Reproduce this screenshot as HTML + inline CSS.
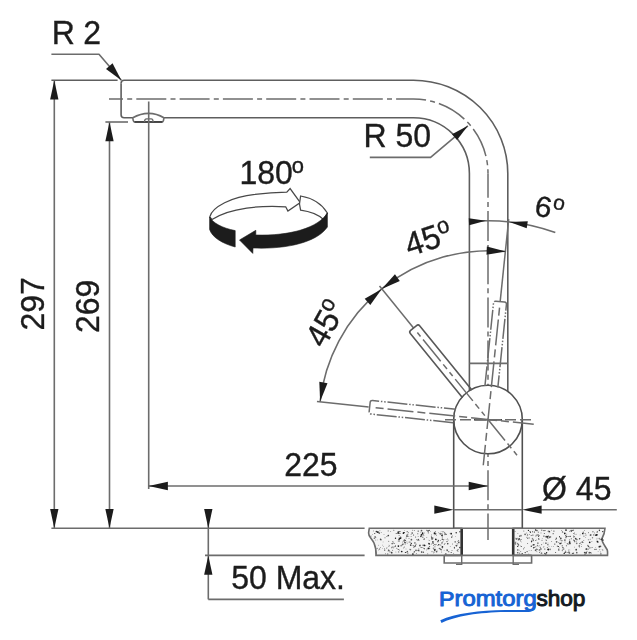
<!DOCTYPE html>
<html><head><meta charset="utf-8"><title>Dimension drawing</title>
<style>
html,body{margin:0;padding:0;background:#fff;}
body{width:637px;height:640px;overflow:hidden;font-family:"Liberation Sans",sans-serif;}
svg{display:block;}
</style></head><body>
<svg width="637" height="640" viewBox="0 0 637 640">
<rect width="637" height="640" fill="#fff"/>
<g>
<path d="M369.3,528.3 H461.7 V555.4 H376 C376.5,551 376,548 374,543 C372,538.5 368.3,536.5 368.6,533 C368.8,531 369,530 369.3,528.3 Z" fill="#f3f3f3" stroke="#6c6c6c" stroke-width="1.6"/>
<path d="M513.2,528.3 H605 C604.8,532 604,535 602,538.5 C601,541 605,546 607.3,550 C607.8,552 607.6,553.5 607.5,555.4 H513.2 Z" fill="#f3f3f3" stroke="#6c6c6c" stroke-width="1.6"/>
<g fill="#1c1c1c" stroke="none"><circle cx="411.3" cy="543.4" r="0.6" opacity="1"/><circle cx="416.2" cy="544.1" r="0.45" opacity="1"/><circle cx="427.1" cy="549.0" r="0.4" opacity="1"/><circle cx="398.0" cy="532.2" r="0.85" opacity="0.55"/><circle cx="424.0" cy="539.5" r="0.6" opacity="0.7"/><circle cx="426.5" cy="550.0" r="0.4" opacity="0.55"/><circle cx="424.4" cy="548.7" r="0.5" opacity="1"/><circle cx="423.6" cy="534.7" r="0.45" opacity="0.85"/><circle cx="415.5" cy="545.9" r="0.6" opacity="0.85"/><circle cx="407.2" cy="543.2" r="0.4" opacity="0.85"/><circle cx="399.1" cy="535.5" r="0.5" opacity="0.55"/><circle cx="377.2" cy="548.4" r="0.6" opacity="0.55"/><circle cx="446.3" cy="539.3" r="0.4" opacity="0.55"/><circle cx="390.0" cy="552.2" r="0.4" opacity="1"/><circle cx="404.4" cy="547.0" r="0.6" opacity="0.55"/><circle cx="421.4" cy="534.8" r="0.85" opacity="0.85"/><circle cx="401.0" cy="537.5" r="0.4" opacity="1"/><circle cx="438.5" cy="532.8" r="0.45" opacity="0.55"/><circle cx="414.3" cy="546.4" r="0.45" opacity="1"/><circle cx="416.3" cy="553.6" r="0.45" opacity="1"/><circle cx="428.3" cy="532.8" r="0.6" opacity="0.7"/><circle cx="457.8" cy="544.2" r="0.4" opacity="0.7"/><circle cx="387.7" cy="553.9" r="0.7" opacity="0.55"/><circle cx="374.7" cy="533.5" r="0.6" opacity="0.85"/><circle cx="444.9" cy="539.3" r="0.4" opacity="0.55"/><circle cx="389.6" cy="545.3" r="0.4" opacity="0.85"/><circle cx="404.1" cy="540.9" r="0.7" opacity="1"/><circle cx="445.1" cy="533.3" r="0.6" opacity="0.7"/><circle cx="426.8" cy="537.5" r="0.45" opacity="0.7"/><circle cx="435.6" cy="533.8" r="0.85" opacity="0.7"/><circle cx="432.1" cy="539.3" r="0.6" opacity="0.55"/><circle cx="408.5" cy="532.5" r="0.4" opacity="0.85"/><circle cx="392.2" cy="546.9" r="0.5" opacity="1"/><circle cx="444.3" cy="544.3" r="0.5" opacity="0.7"/><circle cx="453.7" cy="553.5" r="0.45" opacity="0.7"/><circle cx="413.7" cy="545.7" r="0.7" opacity="0.55"/><circle cx="395.9" cy="552.0" r="0.45" opacity="0.55"/><circle cx="377.2" cy="539.9" r="0.45" opacity="0.55"/><circle cx="375.1" cy="536.8" r="0.7" opacity="0.7"/><circle cx="379.2" cy="533.3" r="0.6" opacity="0.85"/><circle cx="429.5" cy="546.6" r="0.7" opacity="0.7"/><circle cx="423.5" cy="552.2" r="0.6" opacity="0.85"/><circle cx="433.4" cy="553.1" r="0.4" opacity="0.55"/><circle cx="413.9" cy="547.5" r="0.5" opacity="0.7"/><circle cx="459.9" cy="531.8" r="0.7" opacity="0.85"/><circle cx="436.6" cy="551.6" r="0.85" opacity="0.7"/><circle cx="441.6" cy="552.0" r="0.5" opacity="0.55"/><circle cx="432.0" cy="551.6" r="0.6" opacity="0.55"/><circle cx="447.8" cy="543.7" r="0.7" opacity="1"/><circle cx="404.7" cy="530.3" r="0.4" opacity="0.55"/><circle cx="379.1" cy="532.8" r="0.5" opacity="1"/><circle cx="435.8" cy="539.3" r="0.85" opacity="1"/><circle cx="410.2" cy="550.1" r="0.4" opacity="0.55"/><circle cx="398.6" cy="532.1" r="0.4" opacity="0.7"/><circle cx="456.2" cy="532.7" r="0.7" opacity="1"/><circle cx="393.8" cy="530.3" r="0.5" opacity="0.7"/><circle cx="431.4" cy="534.9" r="0.45" opacity="0.85"/><circle cx="429.7" cy="540.6" r="0.45" opacity="0.85"/><circle cx="407.0" cy="536.0" r="0.85" opacity="1"/><circle cx="442.5" cy="548.1" r="0.45" opacity="0.7"/><circle cx="405.2" cy="544.0" r="0.5" opacity="0.7"/><circle cx="383.1" cy="541.9" r="0.4" opacity="0.55"/><circle cx="455.6" cy="536.6" r="0.45" opacity="0.55"/><circle cx="411.1" cy="536.6" r="0.45" opacity="1"/><circle cx="405.0" cy="542.5" r="0.85" opacity="0.85"/><circle cx="434.7" cy="550.2" r="0.7" opacity="1"/><circle cx="399.5" cy="549.9" r="0.5" opacity="0.55"/><circle cx="431.4" cy="536.7" r="0.5" opacity="0.85"/><circle cx="428.8" cy="543.5" r="0.85" opacity="0.7"/><circle cx="407.1" cy="534.6" r="0.5" opacity="0.7"/><circle cx="440.4" cy="549.1" r="0.85" opacity="0.55"/><circle cx="410.7" cy="545.1" r="0.85" opacity="0.85"/><circle cx="456.3" cy="546.4" r="0.45" opacity="1"/><circle cx="393.8" cy="547.1" r="0.6" opacity="0.55"/><circle cx="386.9" cy="536.5" r="0.5" opacity="0.7"/><circle cx="406.0" cy="549.0" r="0.45" opacity="0.55"/><circle cx="407.5" cy="551.4" r="0.6" opacity="0.7"/><circle cx="411.1" cy="534.7" r="0.4" opacity="1"/><circle cx="420.0" cy="545.7" r="0.7" opacity="0.85"/><circle cx="412.3" cy="545.6" r="0.45" opacity="0.55"/><circle cx="435.3" cy="549.6" r="0.85" opacity="0.55"/><circle cx="390.0" cy="551.6" r="0.4" opacity="0.85"/><circle cx="418.8" cy="549.0" r="0.5" opacity="0.85"/><circle cx="452.0" cy="550.5" r="0.5" opacity="0.55"/><circle cx="374.3" cy="538.2" r="0.6" opacity="0.85"/><circle cx="414.4" cy="530.7" r="0.4" opacity="1"/><circle cx="442.2" cy="534.1" r="0.5" opacity="0.7"/><circle cx="412.9" cy="554.0" r="0.85" opacity="1"/><circle cx="455.2" cy="541.8" r="0.85" opacity="0.55"/><circle cx="438.4" cy="540.5" r="0.7" opacity="0.85"/><circle cx="445.0" cy="543.5" r="0.45" opacity="0.85"/><circle cx="398.7" cy="539.1" r="0.7" opacity="0.7"/><circle cx="398.1" cy="533.4" r="0.7" opacity="0.85"/><circle cx="422.0" cy="534.8" r="0.7" opacity="0.55"/><circle cx="415.8" cy="544.5" r="0.4" opacity="0.55"/><circle cx="416.9" cy="539.6" r="0.7" opacity="0.55"/><circle cx="414.7" cy="546.6" r="0.4" opacity="1"/><circle cx="407.8" cy="553.0" r="0.6" opacity="0.85"/><circle cx="392.9" cy="541.8" r="0.5" opacity="1"/><circle cx="451.2" cy="552.5" r="0.6" opacity="0.85"/><circle cx="380.7" cy="540.1" r="0.4" opacity="0.85"/><circle cx="382.5" cy="548.7" r="0.4" opacity="0.55"/><circle cx="388.3" cy="535.5" r="0.85" opacity="0.85"/><circle cx="399.7" cy="538.5" r="0.7" opacity="1"/><circle cx="380.3" cy="547.5" r="0.4" opacity="0.85"/><circle cx="434.9" cy="546.8" r="0.6" opacity="0.55"/><circle cx="404.4" cy="539.9" r="0.7" opacity="0.7"/><circle cx="418.9" cy="550.7" r="0.7" opacity="0.7"/><circle cx="418.1" cy="550.4" r="0.7" opacity="0.7"/><circle cx="391.7" cy="547.8" r="0.5" opacity="0.7"/><circle cx="399.1" cy="537.6" r="0.45" opacity="0.7"/><circle cx="440.3" cy="534.7" r="0.4" opacity="0.7"/><circle cx="450.1" cy="533.2" r="0.4" opacity="0.85"/><circle cx="405.5" cy="540.4" r="0.6" opacity="0.7"/><circle cx="388.9" cy="545.1" r="0.4" opacity="0.55"/><circle cx="388.9" cy="546.4" r="0.5" opacity="0.55"/><circle cx="433.7" cy="545.2" r="0.5" opacity="0.7"/><circle cx="442.5" cy="541.6" r="0.4" opacity="0.55"/><circle cx="438.8" cy="544.7" r="0.7" opacity="1"/><circle cx="384.0" cy="534.4" r="0.45" opacity="0.7"/><circle cx="445.8" cy="553.8" r="0.85" opacity="0.55"/><circle cx="422.6" cy="533.2" r="0.85" opacity="1"/><circle cx="377.9" cy="532.3" r="0.6" opacity="1"/><circle cx="409.0" cy="538.5" r="0.45" opacity="0.85"/><circle cx="446.1" cy="534.4" r="0.6" opacity="0.85"/><circle cx="436.8" cy="539.7" r="0.45" opacity="0.7"/><circle cx="379.4" cy="549.0" r="0.5" opacity="0.55"/><circle cx="442.4" cy="546.9" r="0.85" opacity="1"/><circle cx="421.7" cy="534.6" r="0.7" opacity="0.85"/><circle cx="442.6" cy="536.2" r="0.4" opacity="0.7"/><circle cx="443.5" cy="539.7" r="0.5" opacity="0.85"/><circle cx="439.3" cy="548.4" r="0.6" opacity="0.7"/><circle cx="435.3" cy="531.7" r="0.5" opacity="0.85"/><circle cx="412.7" cy="530.3" r="0.5" opacity="0.55"/><circle cx="391.7" cy="552.7" r="0.85" opacity="0.85"/><circle cx="401.1" cy="545.8" r="0.7" opacity="0.7"/><circle cx="418.4" cy="539.4" r="0.6" opacity="0.7"/><circle cx="433.4" cy="548.3" r="0.7" opacity="0.55"/><circle cx="381.2" cy="532.6" r="0.45" opacity="0.85"/><circle cx="410.5" cy="542.1" r="0.45" opacity="1"/><circle cx="395.5" cy="538.2" r="0.7" opacity="1"/><circle cx="457.1" cy="543.6" r="0.4" opacity="1"/><circle cx="443.0" cy="531.8" r="0.7" opacity="0.55"/><circle cx="405.4" cy="552.5" r="0.6" opacity="1"/><circle cx="457.3" cy="550.5" r="0.7" opacity="0.55"/><circle cx="409.2" cy="541.9" r="0.5" opacity="1"/><circle cx="424.2" cy="538.8" r="0.5" opacity="1"/><circle cx="429.3" cy="543.5" r="0.5" opacity="0.85"/><circle cx="423.1" cy="545.2" r="0.6" opacity="1"/><circle cx="375.7" cy="537.6" r="0.6" opacity="0.55"/><circle cx="422.8" cy="547.4" r="0.5" opacity="0.55"/><circle cx="442.0" cy="535.4" r="0.85" opacity="1"/><circle cx="393.3" cy="548.1" r="0.4" opacity="0.55"/><circle cx="454.4" cy="547.3" r="0.6" opacity="0.7"/><circle cx="458.1" cy="549.6" r="0.7" opacity="0.55"/><circle cx="375.5" cy="540.0" r="0.4" opacity="0.7"/><circle cx="447.6" cy="538.6" r="0.45" opacity="0.55"/><circle cx="403.3" cy="533.4" r="0.6" opacity="1"/><circle cx="424.5" cy="545.4" r="0.85" opacity="1"/><circle cx="403.4" cy="547.9" r="0.45" opacity="0.85"/><circle cx="436.4" cy="535.7" r="0.4" opacity="0.85"/><circle cx="440.8" cy="545.0" r="0.5" opacity="0.85"/><circle cx="395.2" cy="546.4" r="0.7" opacity="0.7"/><circle cx="427.3" cy="548.1" r="0.45" opacity="0.7"/><circle cx="415.7" cy="545.7" r="0.45" opacity="0.55"/><circle cx="426.9" cy="530.2" r="0.5" opacity="1"/><circle cx="373.4" cy="530.9" r="0.45" opacity="0.85"/><circle cx="377.5" cy="532.1" r="0.85" opacity="0.7"/><circle cx="420.0" cy="545.1" r="0.5" opacity="1"/><circle cx="413.6" cy="535.1" r="0.5" opacity="1"/><circle cx="437.3" cy="550.1" r="0.4" opacity="0.55"/><circle cx="410.8" cy="549.7" r="0.45" opacity="1"/><circle cx="408.8" cy="536.2" r="0.45" opacity="0.85"/><circle cx="384.7" cy="550.1" r="0.7" opacity="0.85"/><circle cx="396.9" cy="548.2" r="0.45" opacity="1"/><circle cx="429.2" cy="543.9" r="0.6" opacity="0.85"/><circle cx="378.0" cy="532.0" r="0.7" opacity="1"/><circle cx="443.6" cy="541.1" r="0.4" opacity="0.55"/><circle cx="398.6" cy="551.9" r="0.7" opacity="0.55"/><circle cx="432.9" cy="541.9" r="0.85" opacity="0.85"/><circle cx="396.2" cy="533.4" r="0.5" opacity="0.85"/><circle cx="403.6" cy="532.8" r="0.85" opacity="1"/><circle cx="421.7" cy="552.0" r="0.85" opacity="0.85"/><circle cx="410.0" cy="549.3" r="0.5" opacity="1"/><circle cx="399.3" cy="539.6" r="0.85" opacity="0.7"/><circle cx="378.5" cy="549.9" r="0.4" opacity="0.85"/><circle cx="431.3" cy="544.0" r="0.45" opacity="0.85"/><circle cx="441.9" cy="543.0" r="0.7" opacity="0.7"/><circle cx="386.7" cy="548.2" r="0.5" opacity="0.55"/><circle cx="390.7" cy="531.4" r="0.45" opacity="0.85"/><circle cx="457.0" cy="545.6" r="0.6" opacity="0.55"/><circle cx="422.8" cy="537.3" r="0.7" opacity="0.55"/><circle cx="400.8" cy="536.6" r="0.4" opacity="0.85"/><circle cx="378.5" cy="545.2" r="0.45" opacity="0.55"/><circle cx="437.4" cy="545.6" r="0.45" opacity="0.7"/><circle cx="414.5" cy="551.8" r="0.5" opacity="1"/><circle cx="406.1" cy="538.1" r="0.5" opacity="0.7"/><circle cx="414.9" cy="542.9" r="0.85" opacity="0.55"/><circle cx="434.0" cy="552.0" r="0.6" opacity="0.85"/><circle cx="447.0" cy="549.3" r="0.4" opacity="1"/><circle cx="456.2" cy="545.4" r="0.7" opacity="0.85"/><circle cx="434.2" cy="549.3" r="0.6" opacity="1"/><circle cx="452.5" cy="535.9" r="0.45" opacity="1"/><circle cx="431.9" cy="537.7" r="0.6" opacity="1"/><circle cx="418.1" cy="536.6" r="0.4" opacity="1"/><circle cx="398.5" cy="532.8" r="0.85" opacity="0.7"/><circle cx="440.1" cy="534.3" r="0.4" opacity="1"/><circle cx="442.2" cy="537.5" r="0.45" opacity="0.7"/><circle cx="403.0" cy="544.1" r="0.7" opacity="1"/><circle cx="423.9" cy="535.4" r="0.45" opacity="0.85"/><circle cx="406.8" cy="551.9" r="0.5" opacity="1"/><circle cx="447.0" cy="541.6" r="0.6" opacity="0.85"/><circle cx="429.8" cy="548.5" r="0.4" opacity="1"/><circle cx="447.8" cy="539.6" r="0.45" opacity="0.7"/><circle cx="442.3" cy="539.2" r="0.7" opacity="0.85"/><circle cx="441.1" cy="531.4" r="0.45" opacity="0.55"/><circle cx="448.8" cy="551.7" r="0.6" opacity="0.7"/><circle cx="434.5" cy="544.5" r="0.45" opacity="1"/><circle cx="385.0" cy="537.7" r="0.5" opacity="0.7"/><circle cx="427.7" cy="553.8" r="0.5" opacity="0.55"/><circle cx="384.4" cy="548.5" r="0.4" opacity="0.7"/><circle cx="444.1" cy="550.3" r="0.45" opacity="0.55"/><circle cx="402.3" cy="544.8" r="0.7" opacity="0.55"/><circle cx="450.2" cy="546.6" r="0.4" opacity="0.85"/><circle cx="372.7" cy="534.5" r="0.45" opacity="0.55"/><circle cx="440.5" cy="540.6" r="0.4" opacity="1"/><circle cx="417.8" cy="533.8" r="0.5" opacity="0.85"/><circle cx="398.7" cy="531.8" r="0.5" opacity="1"/><circle cx="430.4" cy="531.6" r="0.4" opacity="0.7"/><circle cx="380.4" cy="539.5" r="0.6" opacity="0.55"/><circle cx="429.2" cy="530.3" r="0.6" opacity="1"/><circle cx="392.1" cy="543.5" r="0.6" opacity="0.55"/><circle cx="447.2" cy="550.3" r="0.85" opacity="0.7"/><circle cx="451.2" cy="533.7" r="0.85" opacity="1"/><circle cx="454.4" cy="548.0" r="0.5" opacity="1"/><circle cx="420.4" cy="532.1" r="0.45" opacity="0.7"/><circle cx="404.5" cy="532.6" r="0.5" opacity="0.85"/><circle cx="421.1" cy="547.4" r="0.5" opacity="1"/><circle cx="444.6" cy="532.2" r="0.45" opacity="0.55"/><circle cx="382.7" cy="545.1" r="0.45" opacity="0.7"/><circle cx="388.2" cy="530.9" r="0.6" opacity="0.55"/><circle cx="379.9" cy="530.8" r="0.4" opacity="1"/><circle cx="407.2" cy="531.7" r="0.6" opacity="0.7"/><circle cx="428.6" cy="548.4" r="0.85" opacity="1"/><circle cx="414.0" cy="552.1" r="0.7" opacity="0.55"/><circle cx="435.7" cy="544.7" r="0.5" opacity="0.7"/><circle cx="429.8" cy="544.6" r="0.4" opacity="0.85"/><circle cx="400.5" cy="538.2" r="0.85" opacity="1"/><circle cx="380.5" cy="539.1" r="0.7" opacity="0.85"/><circle cx="441.2" cy="549.8" r="0.7" opacity="0.7"/><circle cx="393.6" cy="542.9" r="0.5" opacity="0.7"/><circle cx="402.4" cy="542.0" r="0.45" opacity="0.7"/><circle cx="458.8" cy="542.4" r="0.85" opacity="0.7"/><circle cx="421.5" cy="530.6" r="0.85" opacity="0.7"/><circle cx="440.1" cy="533.3" r="0.6" opacity="1"/><circle cx="433.0" cy="537.9" r="0.5" opacity="0.85"/><circle cx="412.2" cy="533.0" r="0.85" opacity="0.7"/><circle cx="392.2" cy="543.7" r="0.7" opacity="0.55"/><circle cx="420.9" cy="536.3" r="0.85" opacity="0.85"/><circle cx="424.5" cy="532.9" r="0.4" opacity="0.85"/><circle cx="432.0" cy="538.7" r="0.7" opacity="0.85"/><circle cx="444.9" cy="534.5" r="0.7" opacity="0.55"/><circle cx="411.4" cy="539.7" r="0.85" opacity="0.7"/><circle cx="398.4" cy="546.1" r="0.85" opacity="1"/><circle cx="425.8" cy="545.4" r="0.4" opacity="0.7"/><circle cx="388.8" cy="541.2" r="0.45" opacity="1"/><circle cx="381.5" cy="539.7" r="0.5" opacity="0.7"/><circle cx="394.5" cy="543.6" r="0.5" opacity="0.55"/><circle cx="428.1" cy="530.9" r="0.85" opacity="0.7"/><circle cx="406.9" cy="541.9" r="0.4" opacity="1"/><circle cx="401.7" cy="551.5" r="0.85" opacity="1"/><circle cx="437.9" cy="541.7" r="0.6" opacity="1"/><circle cx="444.4" cy="532.8" r="0.4" opacity="0.85"/><circle cx="417.7" cy="540.4" r="0.4" opacity="0.85"/><circle cx="451.7" cy="537.1" r="0.7" opacity="1"/><circle cx="436.1" cy="544.3" r="0.5" opacity="0.55"/><circle cx="392.7" cy="550.3" r="0.45" opacity="1"/><circle cx="457.6" cy="541.4" r="0.4" opacity="0.7"/><circle cx="419.5" cy="545.8" r="0.45" opacity="0.55"/><circle cx="459.9" cy="547.5" r="0.85" opacity="0.85"/><circle cx="448.1" cy="540.1" r="0.45" opacity="0.7"/><circle cx="428.8" cy="540.1" r="0.4" opacity="0.55"/><circle cx="379.8" cy="549.0" r="0.4" opacity="1"/><circle cx="371.1" cy="535.9" r="0.5" opacity="0.55"/><circle cx="399.9" cy="531.5" r="0.6" opacity="1"/><circle cx="383.6" cy="546.6" r="0.45" opacity="0.55"/><circle cx="398.3" cy="540.9" r="0.5" opacity="0.85"/><circle cx="399.9" cy="533.4" r="0.6" opacity="0.7"/><circle cx="389.0" cy="550.6" r="0.85" opacity="0.55"/><circle cx="388.4" cy="550.1" r="0.5" opacity="1"/><circle cx="433.1" cy="543.4" r="0.7" opacity="0.7"/><circle cx="388.0" cy="551.1" r="0.4" opacity="0.55"/><circle cx="398.2" cy="549.6" r="0.5" opacity="1"/><circle cx="434.5" cy="533.2" r="0.85" opacity="1"/><circle cx="408.0" cy="534.1" r="0.5" opacity="0.55"/><circle cx="434.2" cy="534.7" r="0.45" opacity="0.7"/><circle cx="415.6" cy="537.1" r="0.5" opacity="0.85"/><circle cx="442.5" cy="542.6" r="0.4" opacity="0.7"/><circle cx="458.0" cy="551.5" r="0.45" opacity="0.7"/><circle cx="395.6" cy="545.4" r="0.4" opacity="1"/><circle cx="458.5" cy="540.6" r="0.7" opacity="0.55"/><circle cx="418.2" cy="531.1" r="0.7" opacity="0.85"/><circle cx="418.8" cy="540.2" r="0.7" opacity="0.55"/><circle cx="385.6" cy="553.7" r="0.45" opacity="0.7"/><circle cx="387.0" cy="547.6" r="0.4" opacity="0.7"/><circle cx="441.3" cy="533.6" r="0.4" opacity="1"/><circle cx="452.6" cy="544.0" r="0.4" opacity="1"/><circle cx="376.4" cy="531.5" r="0.85" opacity="0.85"/><circle cx="399.6" cy="541.6" r="0.4" opacity="0.85"/><circle cx="416.0" cy="550.3" r="0.85" opacity="0.7"/><circle cx="423.9" cy="548.5" r="0.4" opacity="1"/><circle cx="535.7" cy="540.6" r="0.5" opacity="0.7"/><circle cx="537.9" cy="543.1" r="0.7" opacity="1"/><circle cx="538.0" cy="534.9" r="0.85" opacity="0.55"/><circle cx="565.4" cy="550.9" r="0.45" opacity="0.85"/><circle cx="528.4" cy="530.4" r="0.6" opacity="1"/><circle cx="559.3" cy="547.4" r="0.4" opacity="0.55"/><circle cx="525.1" cy="534.3" r="0.85" opacity="0.7"/><circle cx="569.8" cy="531.3" r="0.6" opacity="0.55"/><circle cx="576.2" cy="549.7" r="0.85" opacity="0.85"/><circle cx="582.3" cy="542.0" r="0.85" opacity="0.7"/><circle cx="548.3" cy="536.0" r="0.6" opacity="1"/><circle cx="520.4" cy="539.9" r="0.5" opacity="0.7"/><circle cx="576.9" cy="553.0" r="0.45" opacity="1"/><circle cx="581.5" cy="544.4" r="0.45" opacity="0.7"/><circle cx="580.5" cy="542.5" r="0.4" opacity="0.55"/><circle cx="536.2" cy="551.4" r="0.45" opacity="0.55"/><circle cx="549.6" cy="537.2" r="0.6" opacity="0.55"/><circle cx="600.5" cy="546.3" r="0.85" opacity="0.7"/><circle cx="541.0" cy="532.9" r="0.45" opacity="1"/><circle cx="555.6" cy="552.4" r="0.5" opacity="0.85"/><circle cx="544.7" cy="553.5" r="0.7" opacity="0.7"/><circle cx="518.5" cy="539.7" r="0.85" opacity="0.55"/><circle cx="579.9" cy="543.6" r="0.7" opacity="0.7"/><circle cx="555.7" cy="539.4" r="0.45" opacity="1"/><circle cx="548.3" cy="531.2" r="0.6" opacity="0.85"/><circle cx="536.7" cy="549.0" r="0.45" opacity="1"/><circle cx="532.9" cy="535.1" r="0.6" opacity="0.85"/><circle cx="556.6" cy="541.8" r="0.85" opacity="0.7"/><circle cx="590.9" cy="534.9" r="0.6" opacity="1"/><circle cx="521.4" cy="546.6" r="0.5" opacity="0.85"/><circle cx="569.6" cy="542.5" r="0.85" opacity="0.85"/><circle cx="560.1" cy="543.6" r="0.85" opacity="0.7"/><circle cx="538.6" cy="538.7" r="0.45" opacity="0.85"/><circle cx="527.1" cy="535.8" r="0.4" opacity="0.55"/><circle cx="602.8" cy="550.1" r="0.6" opacity="0.55"/><circle cx="590.2" cy="539.2" r="0.5" opacity="0.55"/><circle cx="541.6" cy="544.6" r="0.6" opacity="0.55"/><circle cx="531.5" cy="542.3" r="0.45" opacity="0.55"/><circle cx="533.4" cy="539.9" r="0.6" opacity="0.7"/><circle cx="560.5" cy="543.2" r="0.5" opacity="1"/><circle cx="573.6" cy="533.5" r="0.45" opacity="0.85"/><circle cx="562.1" cy="540.8" r="0.45" opacity="1"/><circle cx="560.5" cy="538.5" r="0.4" opacity="0.85"/><circle cx="547.6" cy="544.7" r="0.45" opacity="0.55"/><circle cx="589.6" cy="547.9" r="0.6" opacity="0.55"/><circle cx="586.2" cy="553.4" r="0.5" opacity="0.55"/><circle cx="595.9" cy="535.2" r="0.85" opacity="0.85"/><circle cx="573.7" cy="552.9" r="0.5" opacity="0.7"/><circle cx="583.9" cy="536.2" r="0.6" opacity="0.55"/><circle cx="549.5" cy="531.4" r="0.6" opacity="0.85"/><circle cx="540.0" cy="546.9" r="0.45" opacity="0.7"/><circle cx="596.4" cy="534.8" r="0.45" opacity="0.85"/><circle cx="573.5" cy="535.8" r="0.4" opacity="0.85"/><circle cx="594.9" cy="549.3" r="0.6" opacity="0.85"/><circle cx="576.7" cy="543.3" r="0.85" opacity="0.55"/><circle cx="594.4" cy="532.9" r="0.4" opacity="1"/><circle cx="538.9" cy="539.1" r="0.7" opacity="0.85"/><circle cx="556.3" cy="537.8" r="0.5" opacity="0.55"/><circle cx="517.1" cy="538.3" r="0.5" opacity="0.85"/><circle cx="538.0" cy="546.0" r="0.45" opacity="1"/><circle cx="548.8" cy="538.2" r="0.5" opacity="0.55"/><circle cx="565.7" cy="552.6" r="0.4" opacity="0.55"/><circle cx="569.6" cy="539.9" r="0.6" opacity="0.55"/><circle cx="539.3" cy="549.9" r="0.6" opacity="1"/><circle cx="600.0" cy="539.2" r="0.45" opacity="0.85"/><circle cx="542.2" cy="538.6" r="0.4" opacity="0.7"/><circle cx="568.3" cy="536.5" r="0.5" opacity="0.7"/><circle cx="535.6" cy="530.0" r="0.7" opacity="1"/><circle cx="515.3" cy="543.1" r="0.85" opacity="0.55"/><circle cx="569.9" cy="543.5" r="0.85" opacity="0.85"/><circle cx="538.2" cy="532.5" r="0.4" opacity="0.85"/><circle cx="585.9" cy="535.0" r="0.6" opacity="0.7"/><circle cx="599.8" cy="549.8" r="0.45" opacity="0.85"/><circle cx="569.7" cy="541.8" r="0.7" opacity="0.85"/><circle cx="547.5" cy="536.9" r="0.85" opacity="1"/><circle cx="535.9" cy="536.0" r="0.5" opacity="0.7"/><circle cx="595.7" cy="547.7" r="0.4" opacity="0.55"/><circle cx="587.0" cy="551.3" r="0.5" opacity="0.55"/><circle cx="589.7" cy="542.3" r="0.85" opacity="1"/><circle cx="518.6" cy="544.9" r="0.6" opacity="1"/><circle cx="519.7" cy="536.1" r="0.7" opacity="1"/><circle cx="537.3" cy="545.2" r="0.5" opacity="0.85"/><circle cx="531.2" cy="550.5" r="0.45" opacity="0.7"/><circle cx="564.9" cy="540.1" r="0.85" opacity="0.7"/><circle cx="569.8" cy="549.9" r="0.45" opacity="0.7"/><circle cx="532.7" cy="544.9" r="0.5" opacity="0.7"/><circle cx="572.4" cy="553.4" r="0.6" opacity="0.7"/><circle cx="538.6" cy="536.5" r="0.5" opacity="1"/><circle cx="549.0" cy="546.3" r="0.45" opacity="0.55"/><circle cx="528.8" cy="553.9" r="0.4" opacity="0.7"/><circle cx="540.2" cy="547.5" r="0.4" opacity="1"/><circle cx="544.0" cy="530.6" r="0.7" opacity="1"/><circle cx="530.1" cy="531.6" r="0.6" opacity="0.85"/><circle cx="534.7" cy="547.3" r="0.6" opacity="0.7"/><circle cx="601.3" cy="539.3" r="0.85" opacity="0.7"/><circle cx="563.0" cy="549.2" r="0.45" opacity="1"/><circle cx="530.4" cy="532.6" r="0.5" opacity="1"/><circle cx="553.1" cy="533.6" r="0.4" opacity="0.85"/><circle cx="564.8" cy="533.4" r="0.85" opacity="1"/><circle cx="539.1" cy="535.5" r="0.6" opacity="0.7"/><circle cx="547.2" cy="536.2" r="0.4" opacity="0.7"/><circle cx="520.7" cy="551.4" r="0.5" opacity="0.55"/><circle cx="515.4" cy="538.1" r="0.45" opacity="0.7"/><circle cx="602.3" cy="539.8" r="0.4" opacity="1"/><circle cx="545.9" cy="543.4" r="0.7" opacity="0.55"/><circle cx="533.9" cy="544.8" r="0.7" opacity="0.85"/><circle cx="539.4" cy="552.5" r="0.45" opacity="1"/><circle cx="565.3" cy="552.6" r="0.4" opacity="0.7"/><circle cx="590.4" cy="552.7" r="0.7" opacity="0.55"/><circle cx="574.4" cy="536.5" r="0.4" opacity="0.85"/><circle cx="520.5" cy="541.2" r="0.45" opacity="0.55"/><circle cx="599.4" cy="530.3" r="0.7" opacity="0.85"/><circle cx="586.3" cy="549.0" r="0.85" opacity="1"/><circle cx="550.1" cy="549.3" r="0.85" opacity="0.55"/><circle cx="597.4" cy="541.6" r="0.85" opacity="1"/><circle cx="537.0" cy="551.8" r="0.4" opacity="0.55"/><circle cx="565.8" cy="535.5" r="0.6" opacity="0.85"/><circle cx="559.5" cy="536.6" r="0.5" opacity="1"/><circle cx="546.2" cy="536.7" r="0.85" opacity="0.85"/><circle cx="567.3" cy="536.4" r="0.45" opacity="0.7"/><circle cx="533.6" cy="547.8" r="0.7" opacity="0.85"/><circle cx="574.9" cy="534.3" r="0.4" opacity="0.7"/><circle cx="527.6" cy="538.4" r="0.6" opacity="0.55"/><circle cx="515.8" cy="542.1" r="0.6" opacity="0.55"/><circle cx="543.3" cy="542.9" r="0.45" opacity="0.55"/><circle cx="592.5" cy="537.7" r="0.7" opacity="0.55"/><circle cx="565.9" cy="537.7" r="0.6" opacity="0.7"/><circle cx="558.9" cy="548.7" r="0.45" opacity="0.85"/><circle cx="521.2" cy="539.4" r="0.5" opacity="0.7"/><circle cx="583.4" cy="542.6" r="0.4" opacity="0.7"/><circle cx="579.3" cy="545.9" r="0.85" opacity="0.55"/><circle cx="533.7" cy="544.8" r="0.6" opacity="1"/><circle cx="559.4" cy="543.6" r="0.4" opacity="0.55"/><circle cx="588.7" cy="546.6" r="0.6" opacity="1"/><circle cx="573.6" cy="540.1" r="0.6" opacity="0.7"/><circle cx="548.0" cy="543.0" r="0.4" opacity="0.55"/><circle cx="561.5" cy="540.8" r="0.5" opacity="0.55"/><circle cx="567.3" cy="552.4" r="0.45" opacity="1"/><circle cx="543.9" cy="536.1" r="0.7" opacity="0.85"/><circle cx="531.6" cy="541.3" r="0.7" opacity="1"/><circle cx="519.6" cy="553.2" r="0.6" opacity="0.55"/><circle cx="535.6" cy="550.2" r="0.85" opacity="0.7"/><circle cx="588.0" cy="549.1" r="0.7" opacity="0.85"/><circle cx="602.4" cy="531.6" r="0.4" opacity="0.85"/><circle cx="537.1" cy="549.4" r="0.6" opacity="0.7"/><circle cx="562.2" cy="550.8" r="0.45" opacity="1"/><circle cx="539.6" cy="545.4" r="0.4" opacity="0.55"/><circle cx="563.8" cy="548.9" r="0.6" opacity="0.7"/><circle cx="521.4" cy="541.9" r="0.4" opacity="0.55"/><circle cx="585.1" cy="533.6" r="0.5" opacity="0.7"/><circle cx="523.8" cy="530.9" r="0.5" opacity="0.7"/><circle cx="588.4" cy="532.8" r="0.45" opacity="1"/><circle cx="517.7" cy="546.4" r="0.6" opacity="1"/><circle cx="521.3" cy="553.7" r="0.45" opacity="0.85"/><circle cx="592.1" cy="547.5" r="0.45" opacity="1"/><circle cx="548.3" cy="549.6" r="0.85" opacity="0.85"/><circle cx="589.3" cy="552.7" r="0.85" opacity="0.7"/><circle cx="576.1" cy="534.3" r="0.45" opacity="0.7"/><circle cx="576.1" cy="541.2" r="0.45" opacity="0.85"/><circle cx="525.2" cy="552.6" r="0.7" opacity="0.85"/><circle cx="542.0" cy="530.2" r="0.4" opacity="0.7"/><circle cx="579.8" cy="538.6" r="0.5" opacity="1"/><circle cx="532.6" cy="531.7" r="0.5" opacity="1"/><circle cx="548.0" cy="544.7" r="0.5" opacity="1"/><circle cx="526.8" cy="533.0" r="0.4" opacity="0.85"/><circle cx="560.2" cy="540.0" r="0.6" opacity="0.55"/><circle cx="540.1" cy="550.9" r="0.5" opacity="0.55"/><circle cx="574.5" cy="540.9" r="0.6" opacity="1"/><circle cx="532.5" cy="539.9" r="0.45" opacity="1"/><circle cx="571.3" cy="538.8" r="0.5" opacity="0.85"/><circle cx="566.4" cy="545.8" r="0.5" opacity="0.85"/><circle cx="573.2" cy="530.3" r="0.7" opacity="0.7"/><circle cx="516.3" cy="539.0" r="0.7" opacity="0.85"/><circle cx="549.2" cy="536.7" r="0.4" opacity="0.55"/><circle cx="563.0" cy="532.4" r="0.45" opacity="0.55"/><circle cx="584.5" cy="530.4" r="0.4" opacity="0.85"/><circle cx="602.1" cy="549.6" r="0.4" opacity="0.7"/><circle cx="556.3" cy="538.7" r="0.6" opacity="0.85"/><circle cx="557.2" cy="545.6" r="0.4" opacity="0.7"/><circle cx="600.9" cy="553.8" r="0.6" opacity="1"/><circle cx="587.9" cy="545.6" r="0.85" opacity="0.55"/><circle cx="602.8" cy="531.6" r="0.6" opacity="1"/><circle cx="584.5" cy="552.4" r="0.7" opacity="0.7"/><circle cx="558.8" cy="549.9" r="0.7" opacity="1"/><circle cx="523.4" cy="549.1" r="0.4" opacity="0.7"/><circle cx="599.3" cy="546.7" r="0.85" opacity="0.85"/><circle cx="573.4" cy="553.3" r="0.6" opacity="0.55"/><circle cx="553.1" cy="533.7" r="0.5" opacity="0.85"/><circle cx="598.1" cy="551.5" r="0.4" opacity="0.55"/><circle cx="545.9" cy="542.9" r="0.7" opacity="0.55"/><circle cx="583.3" cy="532.3" r="0.7" opacity="0.55"/><circle cx="521.0" cy="535.7" r="0.85" opacity="0.55"/><circle cx="559.9" cy="537.4" r="0.5" opacity="0.7"/><circle cx="536.7" cy="539.9" r="0.4" opacity="0.7"/><circle cx="566.8" cy="534.1" r="0.4" opacity="1"/><circle cx="527.1" cy="551.6" r="0.7" opacity="0.7"/><circle cx="527.7" cy="543.5" r="0.45" opacity="1"/><circle cx="569.4" cy="553.1" r="0.85" opacity="0.55"/><circle cx="551.4" cy="530.3" r="0.45" opacity="0.55"/><circle cx="579.6" cy="547.1" r="0.45" opacity="0.85"/><circle cx="561.7" cy="530.7" r="0.4" opacity="1"/><circle cx="541.5" cy="553.2" r="0.85" opacity="0.55"/><circle cx="549.3" cy="537.2" r="0.45" opacity="0.85"/><circle cx="562.2" cy="545.8" r="0.6" opacity="0.85"/><circle cx="593.8" cy="534.9" r="0.7" opacity="0.7"/><circle cx="565.0" cy="542.0" r="0.4" opacity="1"/><circle cx="570.1" cy="536.4" r="0.7" opacity="0.85"/><circle cx="534.4" cy="532.0" r="0.6" opacity="1"/><circle cx="546.5" cy="540.3" r="0.6" opacity="0.55"/><circle cx="519.4" cy="550.1" r="0.4" opacity="0.7"/><circle cx="561.5" cy="543.1" r="0.6" opacity="0.7"/><circle cx="574.4" cy="547.1" r="0.4" opacity="0.85"/><circle cx="546.6" cy="552.8" r="0.7" opacity="1"/><circle cx="579.5" cy="539.0" r="0.7" opacity="0.55"/><circle cx="515.6" cy="544.2" r="0.45" opacity="0.85"/><circle cx="599.8" cy="546.7" r="0.5" opacity="0.7"/><circle cx="568.6" cy="544.1" r="0.5" opacity="0.7"/><circle cx="558.8" cy="542.4" r="0.5" opacity="0.55"/><circle cx="590.3" cy="535.1" r="0.7" opacity="0.85"/><circle cx="586.1" cy="552.6" r="0.85" opacity="0.85"/><circle cx="550.4" cy="536.9" r="0.85" opacity="0.55"/><circle cx="522.5" cy="553.6" r="0.5" opacity="0.85"/><circle cx="517.9" cy="533.6" r="0.45" opacity="0.85"/><circle cx="571.5" cy="531.4" r="0.6" opacity="0.55"/><circle cx="549.8" cy="532.0" r="0.45" opacity="0.85"/><circle cx="571.2" cy="530.5" r="0.85" opacity="0.7"/><circle cx="566.0" cy="530.1" r="0.85" opacity="1"/><circle cx="551.8" cy="546.3" r="0.4" opacity="0.7"/><circle cx="583.8" cy="540.6" r="0.45" opacity="1"/><circle cx="581.6" cy="546.3" r="0.4" opacity="1"/><circle cx="543.2" cy="547.6" r="0.4" opacity="0.55"/><circle cx="599.2" cy="538.5" r="0.7" opacity="0.55"/><circle cx="576.9" cy="539.5" r="0.85" opacity="0.55"/><circle cx="596.2" cy="535.1" r="0.6" opacity="0.85"/><circle cx="562.2" cy="550.1" r="0.4" opacity="0.7"/><circle cx="591.9" cy="541.3" r="0.4" opacity="1"/><circle cx="596.9" cy="534.8" r="0.85" opacity="1"/><circle cx="558.4" cy="546.5" r="0.6" opacity="1"/><circle cx="524.3" cy="547.8" r="0.45" opacity="0.85"/><circle cx="532.8" cy="538.3" r="0.45" opacity="0.85"/><circle cx="548.2" cy="549.3" r="0.85" opacity="1"/><circle cx="554.8" cy="544.1" r="0.6" opacity="0.85"/><circle cx="582.8" cy="533.5" r="0.85" opacity="1"/><circle cx="543.9" cy="546.7" r="0.45" opacity="0.85"/><circle cx="545.9" cy="539.9" r="0.4" opacity="0.85"/><circle cx="596.1" cy="549.3" r="0.5" opacity="1"/><circle cx="536.4" cy="535.1" r="0.7" opacity="0.55"/><circle cx="564.2" cy="553.4" r="0.7" opacity="1"/><circle cx="549.0" cy="532.8" r="0.45" opacity="0.55"/><circle cx="574.8" cy="542.0" r="0.45" opacity="0.55"/><circle cx="602.4" cy="538.4" r="0.45" opacity="1"/><circle cx="544.3" cy="533.6" r="0.5" opacity="0.85"/><circle cx="523.6" cy="548.8" r="0.45" opacity="0.7"/><circle cx="590.8" cy="547.7" r="0.5" opacity="0.55"/><circle cx="529.4" cy="534.6" r="0.45" opacity="0.85"/><circle cx="575.7" cy="538.7" r="0.85" opacity="0.85"/><circle cx="568.5" cy="549.9" r="0.5" opacity="0.55"/><circle cx="536.9" cy="530.5" r="0.7" opacity="0.85"/><circle cx="573.8" cy="536.9" r="0.7" opacity="0.7"/><circle cx="538.1" cy="531.8" r="0.4" opacity="0.85"/><circle cx="584.8" cy="552.6" r="0.45" opacity="1"/><circle cx="529.1" cy="550.6" r="0.45" opacity="0.55"/><circle cx="562.9" cy="547.6" r="0.7" opacity="0.85"/><circle cx="542.0" cy="540.3" r="0.5" opacity="0.7"/><circle cx="557.3" cy="546.5" r="0.5" opacity="0.7"/><circle cx="598.0" cy="542.1" r="0.7" opacity="0.85"/><circle cx="592.9" cy="531.8" r="0.7" opacity="0.55"/><circle cx="565.6" cy="552.2" r="0.85" opacity="0.55"/><circle cx="541.6" cy="530.1" r="0.7" opacity="0.55"/><circle cx="532.2" cy="538.8" r="0.5" opacity="0.7"/><circle cx="520.4" cy="546.0" r="0.4" opacity="0.7"/><circle cx="517.6" cy="543.7" r="0.85" opacity="0.55"/><circle cx="553.4" cy="546.3" r="0.4" opacity="0.85"/><circle cx="568.9" cy="552.2" r="0.85" opacity="0.55"/><circle cx="551.7" cy="541.7" r="0.4" opacity="1"/><circle cx="517.6" cy="552.6" r="0.7" opacity="0.55"/><circle cx="526.9" cy="537.2" r="0.5" opacity="0.7"/><circle cx="576.8" cy="552.5" r="0.7" opacity="0.7"/><circle cx="590.6" cy="552.4" r="0.4" opacity="1"/><circle cx="585.0" cy="553.9" r="0.7" opacity="0.85"/><circle cx="597.1" cy="532.1" r="0.7" opacity="0.7"/><circle cx="599.4" cy="530.8" r="0.4" opacity="0.85"/><circle cx="591.5" cy="553.0" r="0.4" opacity="1"/><circle cx="517.8" cy="549.9" r="0.85" opacity="0.55"/><circle cx="515.1" cy="531.6" r="0.45" opacity="1"/><circle cx="588.3" cy="539.8" r="0.5" opacity="0.7"/><circle cx="545.5" cy="530.4" r="0.45" opacity="0.85"/><circle cx="519.2" cy="538.9" r="0.85" opacity="0.85"/><circle cx="560.9" cy="538.4" r="0.85" opacity="0.7"/><circle cx="596.9" cy="539.9" r="0.45" opacity="0.7"/><circle cx="533.6" cy="540.8" r="0.45" opacity="0.85"/><circle cx="531.3" cy="546.3" r="0.7" opacity="0.85"/><circle cx="567.4" cy="543.8" r="0.7" opacity="0.55"/><circle cx="531.2" cy="535.6" r="0.5" opacity="0.85"/><circle cx="580.1" cy="534.9" r="0.4" opacity="0.7"/><circle cx="562.5" cy="531.9" r="0.7" opacity="0.7"/><circle cx="553.9" cy="531.1" r="0.7" opacity="0.7"/><circle cx="547.6" cy="538.6" r="0.4" opacity="1"/><circle cx="603.0" cy="540.1" r="0.85" opacity="0.7"/><circle cx="544.8" cy="549.0" r="0.6" opacity="0.85"/><circle cx="564.5" cy="552.7" r="0.4" opacity="1"/><circle cx="600.7" cy="551.9" r="0.4" opacity="1"/><circle cx="517.9" cy="552.9" r="0.6" opacity="0.7"/><circle cx="527.6" cy="534.9" r="0.6" opacity="0.7"/><circle cx="597.0" cy="538.2" r="0.45" opacity="0.7"/><circle cx="585.7" cy="537.7" r="0.4" opacity="0.7"/><circle cx="535.9" cy="546.8" r="0.45" opacity="1"/><circle cx="547.3" cy="547.4" r="0.5" opacity="0.7"/><circle cx="597.6" cy="531.7" r="0.45" opacity="0.85"/><circle cx="574.5" cy="533.0" r="0.5" opacity="0.7"/><circle cx="566.3" cy="536.6" r="0.7" opacity="1"/><circle cx="582.1" cy="542.6" r="0.4" opacity="0.55"/><circle cx="572.5" cy="530.4" r="0.5" opacity="0.7"/><circle cx="529.1" cy="537.9" r="0.7" opacity="0.55"/><circle cx="540.9" cy="549.0" r="0.7" opacity="1"/><circle cx="545.8" cy="553.9" r="0.6" opacity="1"/></g>
<g stroke="#6c6c6c" fill="none"><line x1="461.7" y1="528.3" x2="461.7" y2="555.4" stroke-width="2.6" stroke="#333"/><line x1="513.2" y1="528.3" x2="513.2" y2="555.4" stroke-width="2.6" stroke="#333"/>
<path d="M444.2,555.4 V563 H531.6 V555.4" stroke-width="1.6"/><line x1="444.2" y1="555.4" x2="531.6" y2="555.4" stroke-width="1.6"/>
<path d="M461.7,555.4 V565 M513.2,555.4 V565 M456,564.4 H461.7 M513.2,564.4 H519" stroke-width="1.4"/></g>
<g fill="none" stroke="#6c6c6c" stroke-width="1.6" stroke-linecap="butt" stroke-linejoin="round">
<path d="M51.4,80.2 H117.6 M121.1,83.2 Q121.1,80.2 124.1,80.2 H413.40 A94.40,93.40 0 0 1 507.8,173.60 V392" stroke="#5e5e5e"/>
<path d="M121.1,83.2 V114.7 Q121.1,117.7 124.1,117.7 H413.40 A56.00,55.90 0 0 1 469.4,173.60 V391.5" stroke="#5e5e5e"/>
<line x1="469.40" y1="363.40" x2="507.80" y2="363.40" />
<path d="M109,99.0 H413.40 A74.6,74.6 0 0 1 488.0,173.60" stroke-dasharray="30 4.2 5 4.1" stroke-dashoffset="16" stroke-width="1.5"/>
<path d="M488.0,173.60 V540" stroke-dasharray="30 4.1 5 4.1" stroke-dashoffset="5.8" stroke-width="1.5"/>
<path d="M132.8,117.8 C137,115.4 142,113.4 148.6,113.4 C155,113.4 160,115.4 163.9,117.8 L163.5,120.4 C163.3,121.7 162.6,122.1 161.6,122.1 H135.1 C134.1,122.1 133.4,121.7 133.2,120.4 Z" fill="#fff"/>
<path d="M134.6,121.9 H162.4" stroke="#444" stroke-width="1.8"/>
<path d="M144.5,122 C144.5,119.6 145.5,118.9 146.6,118.9 H151.2 C152.3,118.9 153.1,119.6 153.1,122" stroke-width="1.4"/>
<line x1="148.70" y1="101.60" x2="148.70" y2="489.00" />
<circle cx="488.0" cy="419.5" r="34.3" fill="#fff" stroke="#505050"/>
<line x1="453.70" y1="419.50" x2="453.70" y2="528.20" stroke="#505050"/>
<line x1="522.30" y1="419.50" x2="522.30" y2="528.20" stroke="#505050"/>
<line x1="474.00" y1="419.80" x2="502.00" y2="419.80" stroke="#444"/>
<line x1="445.00" y1="419.80" x2="534.00" y2="419.80" stroke-dasharray="11 4" stroke-width="1.4"/>
<line x1="453.60" y1="528.20" x2="522.30" y2="528.20" />
<line x1="54.30" y1="80.20" x2="54.30" y2="528.20" />
<polygon points="54.30,80.20 58.45,99.50 50.15,99.50" fill="#1c1c1c" stroke="none"/>
<polygon points="54.30,528.20 50.15,508.90 58.45,508.90" fill="#1c1c1c" stroke="none"/>
<line x1="109.50" y1="122.00" x2="109.50" y2="528.20" />
<polygon points="109.50,122.00 113.65,141.30 105.35,141.30" fill="#1c1c1c" stroke="none"/>
<polygon points="109.50,528.20 105.35,508.90 113.65,508.90" fill="#1c1c1c" stroke="none"/>
<line x1="105.40" y1="122.00" x2="128.00" y2="122.00" />
<line x1="51.40" y1="528.20" x2="364.60" y2="528.20" />
<line x1="148.60" y1="486.00" x2="488.00" y2="486.00" />
<polygon points="148.60,486.00 167.90,481.85 167.90,490.15" fill="#1c1c1c" stroke="none"/>
<polygon points="488.00,486.00 468.70,490.15 468.70,481.85" fill="#1c1c1c" stroke="none"/>
<line x1="453.60" y1="509.70" x2="522.30" y2="509.70" />
<line x1="540.00" y1="509.70" x2="616.80" y2="509.70" />
<polygon points="453.60,509.70 434.30,513.85 434.30,505.55" fill="#1c1c1c" stroke="none"/>
<polygon points="522.30,509.70 541.60,505.55 541.60,513.85" fill="#1c1c1c" stroke="none"/>
<line x1="208.30" y1="509.00" x2="208.30" y2="599.40" />
<polygon points="208.30,528.20 204.15,508.90 212.45,508.90" fill="#1c1c1c" stroke="none"/>
<polygon points="208.30,555.40 212.45,574.70 204.15,574.70" fill="#1c1c1c" stroke="none"/>
<line x1="205.00" y1="555.40" x2="364.60" y2="555.40" />
<line x1="208.30" y1="599.40" x2="343.90" y2="599.40" />
<path d="M51.4,54.2 H99 L121.3,80.2" />
<path d="M369.8,157.4 H430.6 L467.9,125.8" />
<path d="M505.96,251.53 A170.2,170.2 0 0 0 320.11,401.49" />
<path d="M469.30,221.68 A198.7,198.7 0 0 1 555.31,232.55" />
<line x1="500.23" y1="301.13" x2="508.71" y2="219.07" stroke-width="1.5"/>
<line x1="413.58" y1="327.93" x2="379.52" y2="286.02" stroke-width="1.5"/>
<line x1="368.66" y1="406.96" x2="316.94" y2="401.52" stroke-width="1.5"/>
<path d="M471.84,390.11 L419.62,325.85 Q418.24,324.14 416.53,325.53 L410.63,330.32 Q408.92,331.71 410.31,333.42 L462.53,397.67" stroke="#585858"/>
<path d="M417.36,332.58 L517.01,455.20" stroke-dasharray="5 4 28 4 6 4" stroke-width="1.5"/>
<path d="M455.89,409.29 L372.55,400.53 Q370.36,400.30 370.13,402.49 L369.17,411.64 Q368.94,413.82 371.13,414.05 L454.47,422.81" stroke-dasharray="20 1.8 1.5 1.8 1.5 1.8" stroke-dashoffset="8" stroke-width="1.5"/>
<path d="M375.62,407.69 L533.75,424.31" stroke-dasharray="8 4 26 4" stroke-width="1.5"/>
<path d="M497.86,387.34 L506.42,304.48 Q506.65,302.30 504.46,302.07 L495.90,301.19 Q493.72,300.96 493.49,303.15 L484.93,386.01" stroke-dasharray="20 1.8 1.5 1.8 1.5 1.8" stroke-dashoffset="8" stroke-width="1.5"/>
<path d="M499.56,307.60 L483.27,465.26" stroke-dasharray="8 4 26 4" stroke-width="1.5"/>
</g>
<polygon points="121.30,80.20 105.99,68.96 112.52,63.36" fill="#1c1c1c" stroke="none"/>
<polygon points="467.90,125.80 457.07,140.09 452.03,134.14" fill="#1c1c1c" stroke="none"/>
<polygon points="505.96,251.53 486.50,254.86 486.85,246.57" fill="#1c1c1c" stroke="none"/>
<polygon points="381.74,288.91 394.94,274.23 399.81,280.95" fill="#1c1c1c" stroke="none"/>
<polygon points="381.74,288.91 370.29,304.99 364.69,298.86" fill="#1c1c1c" stroke="none"/>
<polygon points="320.11,401.49 319.31,381.76 327.48,383.17" fill="#1c1c1c" stroke="none"/>
<polygon points="485.92,220.81 469.13,225.21 468.76,218.22" fill="#1c1c1c" stroke="none"/>
<polygon points="509.46,221.96 527.78,221.26 526.71,228.17" fill="#1c1c1c" stroke="none"/>
<path d="M209.8,216.8 C212,207 232,196.5 255,194.3 C266,193 277,192.3 286.8,192.1 L290.1,188.6 L300.3,202.6 L287.9,211 L285.7,206.8 C262,205.3 230,207.5 212,219.6 Z" fill="#fff" stroke="#484848" stroke-width="1.25"/>
<path d="M300.6,196 C312,198 322,204 327.4,213 L323.5,219.5 C318,214.5 310,211.5 300.6,210.2 L299.5,204 Z" fill="#fff" stroke="#484848" stroke-width="1.25"/>
<path d="M209.6,217 C213,223 222,228 235.2,230.6 L235.2,247 C222,243.5 212,237 209.6,229.5 Z" fill="#1c1c1c" stroke="#1c1c1c" stroke-width="0.6"/>
<path d="M239.5,240 L255.8,230.3 L255.8,235 C290,236 318,228 327.4,213 L327.4,227 C318,241 290,249.5 253,248 L252.8,253.4 Z" fill="#1c1c1c" stroke="#1c1c1c" stroke-width="0.6"/>

<g font-family="Liberation Sans, sans-serif" font-size="32" fill="#1c1c1c" stroke="#1c1c1c" stroke-width="0.35" style="opacity:.999">
<text transform="translate(51.7,43.5) scale(1.0,1.04)">R<tspan dx="8.4">2</tspan></text>
<text transform="translate(363.5,147.3) scale(1.0,1.04)">R 50</text>
<text transform="translate(239.4,184.4) scale(1.0,1.04)">180<tspan font-size="22" dy="-11.3" dx="-0.9">o</tspan></text>
<text transform="translate(284.2,475.5) scale(1.0,1.04)">225</text>
<text transform="translate(542.1,499.7) scale(1.0,1.04)">Ø 45</text>
<text transform="translate(231.2,588.7) scale(1.0,1.04)">50 Max.</text>
<text transform="translate(43.8,330.5) rotate(-90) scale(1.0,1.04)">297</text>
<text transform="translate(98.5,333) rotate(-90) scale(1.0,1.04)">269</text>
<text transform="translate(409.2,256.8) rotate(-18) scale(1.0,1.04)">45<tspan font-size="22" dy="-11.3" dx="-0.2">o</tspan></text>
<text transform="translate(323.9,349.2) rotate(-61) scale(1.0,1.04)">45<tspan font-size="22" dy="-11.3" dx="-0.9">o</tspan></text>
<g font-size="29"><text transform="translate(533.4,215.2) rotate(10) scale(1.04,1.0)">6<tspan font-size="20.5" dy="-10" dx="0.6">o</tspan></text></g>
</g>


<g font-family="Liberation Sans, sans-serif" font-size="22.6" style="opacity:.999" stroke-width="1" stroke-linejoin="round">
<text x="438.9" y="605.6" font-size="20.6" textLength="15.4" lengthAdjust="spacingAndGlyphs" fill="#1763d4" stroke="#1763d4">P</text>
<text x="454.5" y="605.6" textLength="82.2" lengthAdjust="spacingAndGlyphs" fill="#1763d4" stroke="#1763d4">romtorg</text>
<text x="536.4" y="605.6" fill="#141a22" stroke="#141a22">shop</text>
<path d="M440.3,620.3 C455,613.3 480,610.3 505,610 L527,610.1 C531.5,610.1 533.7,608.4 533.7,604 L535.8,604 C535.8,609.6 532.6,612 527,612 L505,611.9 C480,612.3 455,615.8 441.5,623 Z" fill="#1763d4" stroke="none"/>
</g>

</g>
</svg>
</body></html>
